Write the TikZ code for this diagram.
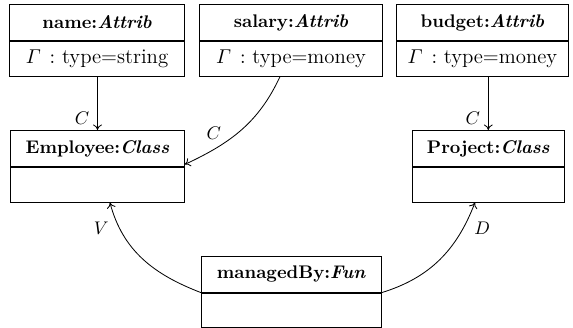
\documentclass[tikz,border=0pt]{standalone}
\usepackage{amsmath}
\usetikzlibrary{arrows.meta}
\newcommand{\bodytext}[1]{{\fontsize{11.4}{13}\selectfont$\varGamma\,:\ $type=#1}}
\begin{document}
\begin{tikzpicture}[x=0.547pt,y=-0.547pt,
  ttl/.style={draw, line width=0.45pt, anchor=north, minimum height=19.8pt, inner sep=0pt},
  bdy/.style={draw, line width=0.45pt, anchor=north, minimum height=19pt, inner sep=0pt},
  arr/.style={-{To[length=3pt,width=4.8pt]}, line width=0.45pt}]
\useasboundingbox (0,0) rectangle (573,328);
% top row
\node[ttl, minimum width=95.7pt] (nameT) at (97,4) {\textbf{name:\textit{Attrib}}};
\node[bdy, minimum width=95.7pt] (nameB) at (nameT.south) {\bodytext{string}};
\node[ttl, minimum width=100.3pt] (salT) at (291,4) {\textbf{salary:\textit{Attrib}}};
\node[bdy, minimum width=100.3pt] (salB) at (salT.south) {\bodytext{money}};
\node[ttl, minimum width=93.7pt] (budT) at (482.4,4) {\textbf{budget:\textit{Attrib}}};
\node[bdy, minimum width=93.7pt] (budB) at (budT.south) {\bodytext{money}};
% middle row
\node[ttl, minimum width=95pt] (empT) at (97.5,130) {\textbf{Employee:\textit{Class}}};
\node[bdy, minimum width=95pt] (empB) at (empT.south) {};
\node[ttl, minimum width=83.1pt] (projT) at (488.3,130) {\textbf{Project:\textit{Class}}};
\node[bdy, minimum width=83.1pt] (projB) at (projT.south) {};
% bottom
\node[ttl, minimum width=98.1pt] (mbT) at (291.3,255.7) {\textbf{managedBy:\textit{Fun}}};
\node[bdy, minimum width=98.1pt] (mbB) at (mbT.south) {};
% connectors
\draw[arr] (empT.north |- nameB.south) -- node[pos=0.78, left=1pt] {$C$} (empT.north);
\draw[arr] (projT.north |- budB.south) -- node[pos=0.78, left=1pt] {$C$} (projT.north);
\draw[arr] ([xshift=-6pt]salB.south) to[out=-115, in=25]
  node[pos=0.8, above=3pt, xshift=2pt] {$C$} ([yshift=1.4pt]empT.south east);
\draw[arr] (mbT.south west) to[out=159, in=-75]
  node[pos=0.82, left=2pt, yshift=-1pt] {$V$} ([xshift=6.8pt]empB.south);
\draw[arr] (mbT.south east) to[out=17, in=-111]
  node[pos=0.82, right=2pt, yshift=-1pt] {$D$} ([xshift=-7.3pt]projB.south);
\end{tikzpicture}
\end{document}
